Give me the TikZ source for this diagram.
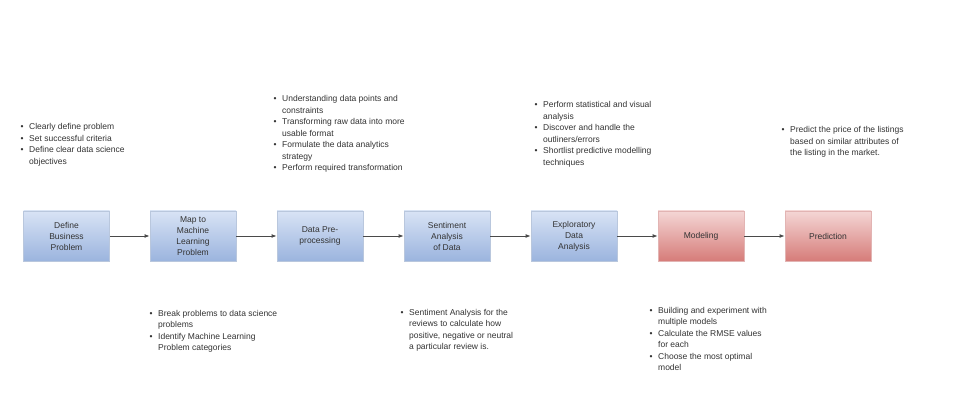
\documentclass[tikz,border=0pt]{standalone}
\usepackage{fontspec}
\setmainfont{Liberation Sans}
\usetikzlibrary{arrows.meta}
\definecolor{txt}{HTML}{333333}
\definecolor{bluetop}{HTML}{D8E3F5}
\definecolor{bluebot}{HTML}{9BB4DE}
\definecolor{blueedge}{HTML}{B9C7DD}
\definecolor{redtop}{HTML}{F4D6D5}
\definecolor{redbot}{HTML}{D67C79}
\definecolor{rededge}{HTML}{E2B4B3}
\definecolor{arrowc}{HTML}{4A4A4A}
\newcommand{\blist}[1]{{\fontsize{8.5}{11.5}\selectfont\renewcommand{\arraystretch}{1}\begin{tabular}[t]{@{}l@{\hspace{5.5pt}}l@{}}#1\end{tabular}}}
\newcommand{\bu}{\textbullet}
\tikzset{
  stage/.style={minimum width=86pt, minimum height=50pt, inner sep=2pt, align=center,
    font=\fontsize{8.5}{11}\selectfont, text=txt, line width=0.8pt},
  bluestage/.style={stage, draw=blueedge, top color=bluetop, bottom color=bluebot},
  redstage/.style={stage, draw=rededge, top color=redtop, bottom color=redbot},
  notes/.style={anchor=base west, inner sep=0pt, text=txt},
  flow/.style={draw=arrowc, line width=0.9pt, -{Latex[length=5pt,width=4pt]}}
}
\begin{document}
\begin{tikzpicture}[x=1pt,y=-1pt]
\useasboundingbox[fill=white] (0,0) rectangle (980,406);
\node[bluestage] (s1) at (66.5,236) {Define\\Business\\Problem};
\node[bluestage] (s2) at (193,236) {Map to\\Machine\\Learning\\Problem};
\node[bluestage] (s3) at (320,236) {Data Pre-\\processing};
\node[bluestage] (s4) at (447,236) {Sentiment\\Analysis\\of Data};
\node[bluestage] (s5) at (574,236) {Exploratory\\Data\\Analysis};
\node[redstage] (s6) at (701,236) {Modeling};
\node[redstage] (s7) at (828,236) {Prediction};
\draw[flow] (s1) -- (s2);
\draw[flow] (s2) -- (s3);
\draw[flow] (s3) -- (s4);
\draw[flow] (s4) -- (s5);
\draw[flow] (s5) -- (s6);
\draw[flow] (s6) -- (s7);
\node[notes] (n1) at (20.5,130) {\blist{\bu & Clearly define problem\\ \bu & Set successful criteria\\ \bu & Define clear data science\\ & objectives}};
\node[notes] (n3) at (273.5,102) {\blist{\bu & Understanding data points and\\ & constraints\\ \bu & Transforming raw data into more\\ & usable format\\ \bu & Formulate the data analytics\\ & strategy\\ \bu & Perform required transformation}};
\node[notes] (n5) at (534.5,108) {\blist{\bu & Perform statistical and visual\\ & analysis\\ \bu & Discover and handle the\\ & outliners/errors\\ \bu & Shortlist predictive modelling\\ & techniques}};
\node[notes] (n7) at (781.5,133) {\blist{\bu & Predict the price of the listings\\ & based on similar attributes of\\ & the listing in the market.}};
\node[notes] (n2) at (149.5,316) {\blist{\bu & Break problems to data science\\ & problems\\ \bu & Identify Machine Learning\\ & Problem categories}};
\node[notes] (n4) at (400.5,315) {\blist{\bu & Sentiment Analysis for the\\ & reviews to calculate how\\ & positive, negative or neutral\\ & a particular review is.}};
\node[notes] (n6) at (649.5,313) {\blist{\bu & Building and experiment with\\ & multiple models\\ \bu & Calculate the RMSE values\\ & for each\\ \bu & Choose the most optimal\\ & model}};
\end{tikzpicture}
\end{document}
